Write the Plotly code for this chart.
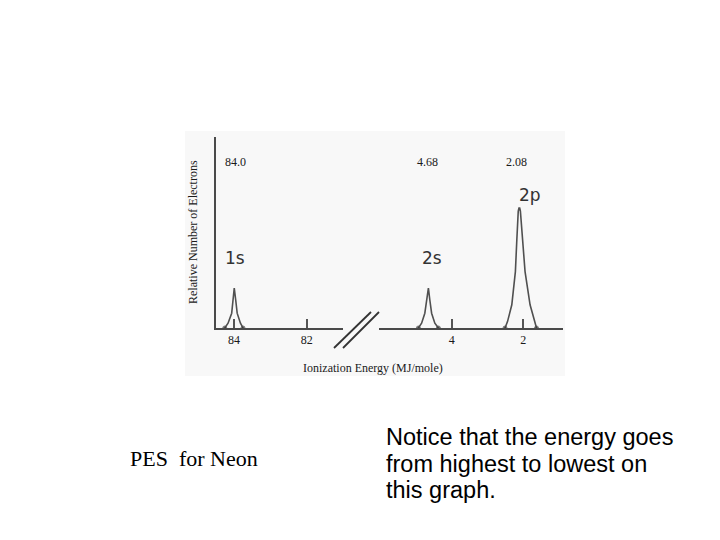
"""PES for Neon slide: photoelectron spectrum with broken energy axis."""
import plotly.graph_objects as go

W, H = 720, 540
OFF = 8  # page body margin added around the figure

# peak energies (MJ/mol) and labels
orbital_labels = ["1s", "2s", "2p"]
peak_energies = ["84.0", "4.68", "2.08"]

# 1s peak (left panel), relative number of electrons
e_1s = [84.25, 84.16, 84.06, 84.02, 83.99, 83.95, 83.91, 83.82, 83.75]
h_1s = [0.0, 0.12, 0.37, 0.7, 1.0, 0.7, 0.37, 0.12, 0.0]

# 2s peak (right panel)
e_2s = [4.93, 4.84, 4.75, 4.70, 4.65, 4.61, 4.56, 4.47, 4.37]
h_2s = [0.0, 0.12, 0.37, 0.7, 1.0, 0.7, 0.37, 0.12, 0.0]

# 2p peak (right panel)
e_2p = [2.51, 2.44, 2.32, 2.22, 2.18, 2.16, 2.14, 2.12, 2.10, 2.08, 2.06, 2.03,
        1.95, 1.81, 1.69, 1.63]
h_2p = [0.0, 0.16, 0.58, 1.41, 2.2, 2.7, 2.92, 3.0, 3.0, 2.92, 2.7, 2.2,
        1.41, 0.58, 0.16, 0.0]

left_ticks = [84, 82]
right_ticks = [4, 2]


def px(x):
    return (x - OFF) / W


def py(y):
    return (H - (y - OFF)) / H


line_col = "#4a4a4a"
curve_col = "#505050"

fig = go.Figure()


def add_peak(xs, ys, axis):
    sizes = [4] + [0] * (len(xs) - 2) + [4]
    fig.add_trace(
        go.Scatter(
            x=xs,
            y=ys,
            xaxis=axis,
            yaxis="y",
            mode="lines+markers",
            line={"color": curve_col, "width": 1.6},
            marker={"size": sizes, "color": "#333333"},
            showlegend=False,
            hoverinfo="skip",
        )
    )


add_peak(e_1s, h_1s, "x")
add_peak(e_2s, h_2s, "x2")
add_peak(e_2p, h_2p, "x2")

axis_common = dict(
    showline=True,
    linecolor=line_col,
    linewidth=2,
    showgrid=False,
    zeroline=False,
    ticks="inside",
    ticklen=9,
    tickwidth=1.5,
    tickcolor="#555555",
    tickfont={"family": "Liberation Serif", "size": 12, "color": "#1a1a1a"},
    anchor="y",
    fixedrange=True,
)

fig.update_layout(
    xaxis=dict(domain=[px(216), px(343)], range=[84.49, 81.01], tickvals=left_ticks, **axis_common),
    xaxis2=dict(domain=[px(379), px(563)], range=[6.03, 0.89], tickvals=right_ticks, **axis_common),
    yaxis=dict(
        domain=[py(328), py(137)],
        range=[0, 4.775],
        showline=True,
        linecolor=line_col,
        linewidth=2,
        showgrid=False,
        zeroline=False,
        showticklabels=False,
        ticks="",
        fixedrange=True,
    ),
    width=W,
    height=H,
    margin={"l": 0, "r": 0, "t": 0, "b": 0},
    paper_bgcolor="#ffffff",
    plot_bgcolor="rgba(0,0,0,0)",
)

# faint scanned-image background
fig.add_shape(type="rect", xref="paper", yref="paper", x0=px(185), x1=px(565),
              y0=py(376), y1=py(131), fillcolor="#f8f8f8", line={"width": 0}, layer="below")

# axis break marks
for x0, x1 in [(334, 371), (343, 379)]:
    fig.add_shape(type="line", xref="paper", yref="paper", x0=px(x0), y0=py(348),
                  x1=px(x1), y1=py(312), line={"color": "#333333", "width": 1.8})

serif_small = {"family": "Liberation Serif", "size": 12, "color": "#1a1a1a"}

# peak energy values along the top
for axis, val, xv in zip(["x", "x2", "x2"], peak_energies, [83.95, 4.68, 2.18]):
    fig.add_annotation(x=xv, xref=axis, y=py(162), yref="paper", text=val,
                       xanchor="center", yanchor="middle", showarrow=False, font=serif_small)

# orbital labels
label_pos = [(83.97, 258), (4.55, 258), (1.8, 195)]
for (xv, ypix), lab, axis in zip(label_pos, orbital_labels, ["x", "x2", "x2"]):
    fig.add_annotation(x=xv, xref=axis, y=py(ypix), yref="paper", text=lab,
                       xanchor="center", yanchor="middle", showarrow=False,
                       font={"family": "DejaVu Sans", "size": 17, "color": "#333333"})

fig.add_annotation(x=px(193), y=py(232), xref="paper", yref="paper",
                   xanchor="center", yanchor="middle",
                   text="Relative Number of Electrons", textangle=-90, showarrow=False,
                   font={"family": "Liberation Serif", "size": 12, "color": "#1a1a1a"})
fig.add_annotation(x=px(373), y=py(368), xref="paper", yref="paper",
                   xanchor="center", yanchor="middle",
                   text="Ionization Energy (MJ/mole)", showarrow=False,
                   font={"family": "Liberation Serif", "size": 12, "color": "#1a1a1a"})

# slide text
fig.add_annotation(x=px(128), y=py(458), xref="paper", yref="paper",
                   xanchor="left", yanchor="middle",
                   text="PES  for Neon", showarrow=False,
                   font={"family": "Liberation Serif", "size": 22, "color": "#000000"})
notice_lines = ["Notice that the energy goes", "from highest to lowest on", "this graph."]
for i, line in enumerate(notice_lines):
    fig.add_annotation(x=px(384), y=py(437 + 26.5 * i), xref="paper", yref="paper",
                       xanchor="left", yanchor="middle", text=line, showarrow=False,
                       font={"family": "Liberation Sans", "size": 23.5, "color": "#000000"})

fig.write_html("out.html")
